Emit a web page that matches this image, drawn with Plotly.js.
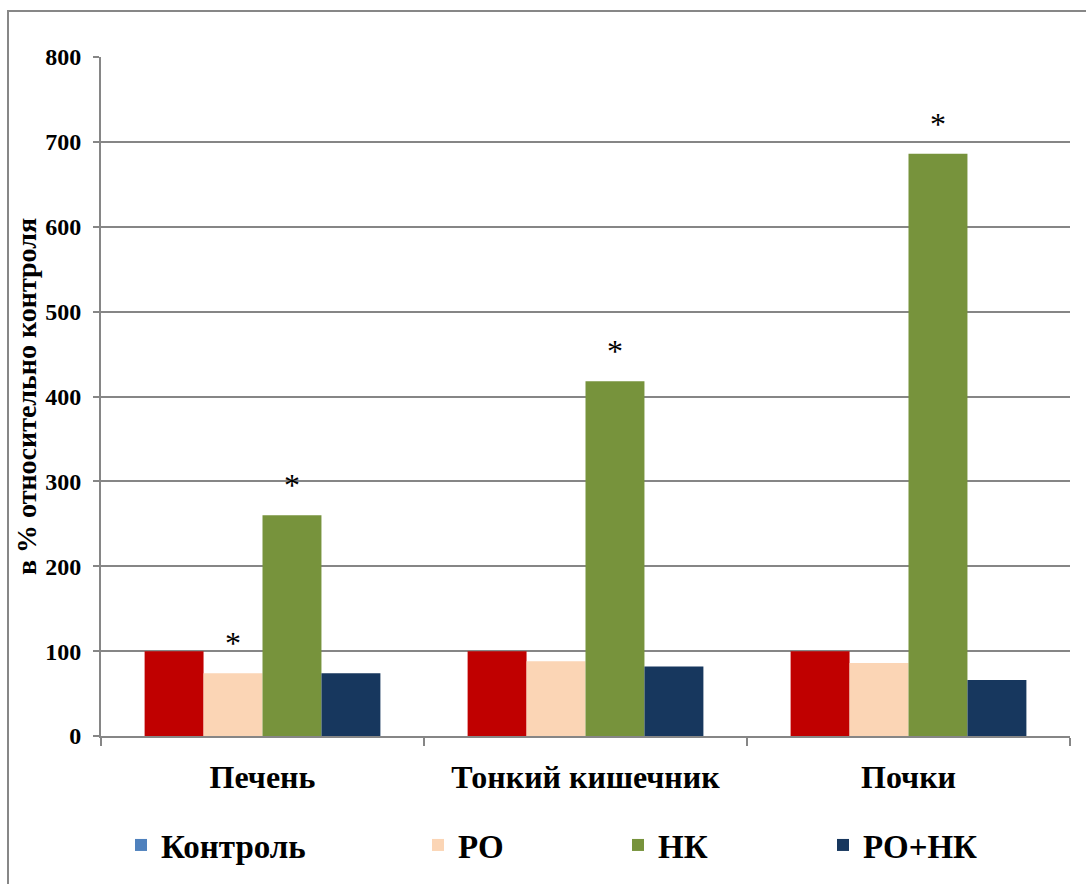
<!DOCTYPE html>
<html><head><meta charset="utf-8">
<script src="https://cdn.plot.ly/plotly-3.0.1.min.js"></script>
<style>html,body{margin:0;padding:0;background:#fff;}#chart{width:1086px;height:884px;}</style>
</head><body><div id="chart"></div>
<script>
const categories = ['Печень', 'Тонкий кишечник', 'Почки'];
const seriesNames = ['Контроль', 'РО', 'НК', 'РО+НК'];
const control = [100, 100, 100];
const ro = [74, 88, 86];
const nk = [260, 418, 686];
const roNk = [74, 82, 66];
// significance marks (1 = "*")
const sigControl = [0, 0, 0];
const sigRo = [1, 0, 0];
const sigNk = [1, 1, 1];
const sigRoNk = [0, 0, 0];

const barColors = ['#C00000', '#FBD5B5', '#77933C', '#17375E'];
const legendColors = ['#4F81BD', '#FBD5B5', '#77933C', '#17375E'];
const values = [control, ro, nk, roNk];
const sigs = [sigControl, sigRo, sigNk, sigRoNk];

const FONT = 'Liberation Serif';
const bargap = 0.27;

const traces = [];
values.forEach((v, k) => {
  traces.push({
    type: 'bar', x: categories, y: v, name: seriesNames[k],
    marker: {color: barColors[k], line: {width: 0}},
    showlegend: false, hoverinfo: 'y'
  });
});
const legendIds = ['legend', 'legend2', 'legend3', 'legend4'];
seriesNames.forEach((n, k) => {
  traces.push({
    type: 'scatter', mode: 'markers', x: [null], y: [null], name: n,
    marker: {color: legendColors[k], symbol: 'square', size: 13},
    showlegend: true, legend: legendIds[k]
  });
});

const annotations = [];
const bw = (1 - bargap) / 4;
sigs.forEach((s, k) => {
  s.forEach((flag, i) => {
    if (flag) {
      annotations.push({
        x: i - (1 - bargap) / 2 + bw * (k + 0.5), y: values[k][i],
        xref: 'x', yref: 'y', text: '*', showarrow: false,
        yanchor: 'bottom', yshift: 10,
        font: {family: FONT, size: 32, color: '#000'}
      });
    }
  });
});

const legX = [143, 440, 640, 845];
const legendObjs = {};
legendIds.forEach((id, k) => {
  legendObjs[id] = {
    x: (legX[k] - 101 - 22) / 969, y: (737 - 845) / 680,
    xanchor: 'left', yanchor: 'middle', orientation: 'h',
    bgcolor: 'rgba(0,0,0,0)', borderwidth: 0,
    font: {family: FONT, size: 33, color: '#000', weight: 'bold'},
    itemsizing: 'constant'
  };
});

const layout = Object.assign({
  width: 1086, height: 884,
  margin: {l: 101, r: 16, t: 57, b: 147},
  paper_bgcolor: '#fff', plot_bgcolor: '#fff',
  barmode: 'group', bargap: bargap, bargroupgap: 0,
  font: {family: FONT, color: '#000'},
  xaxis: {
    type: 'category', categoryorder: 'array', categoryarray: categories,
    range: [-0.5, 2.5], tickson: 'boundaries', ticks: 'outside', ticklen: 8,
    tickcolor: '#868686', tickwidth: 2, ticklabelstandoff: 12,
    showline: true, linecolor: '#868686', linewidth: 2,
    showgrid: false, zeroline: false,
    tickfont: {family: FONT, size: 32, color: '#000', weight: 'bold'}
  },
  yaxis: {
    range: [0, 800], dtick: 100, tick0: 0,
    ticks: 'outside', ticklen: 6, tickcolor: '#868686', tickwidth: 2,
    ticklabelstandoff: 7,
    showline: true, linecolor: '#868686', linewidth: 2,
    showgrid: true, gridcolor: '#868686', gridwidth: 2, zeroline: false,
    tickfont: {family: FONT, size: 24, color: '#000', weight: 'bold'},
    title: {text: 'в % относительно контроля', standoff: 0,
            font: {family: FONT, size: 28, color: '#000', weight: 'bold'}}
  },
  annotations: annotations,
  shapes: [{
    type: 'rect', xref: 'paper', yref: 'paper',
    x0: (8 - 101) / 969, x1: (1100 - 101) / 969,
    y0: (737 - 900) / 680, y1: (737 - 11) / 680,
    line: {color: '#878787', width: 2}, fillcolor: 'rgba(0,0,0,0)', layer: 'below'
  }]
}, legendObjs);

Plotly.newPlot('chart', traces, layout, {displayModeBar: false, staticPlot: true});
</script></body></html>
